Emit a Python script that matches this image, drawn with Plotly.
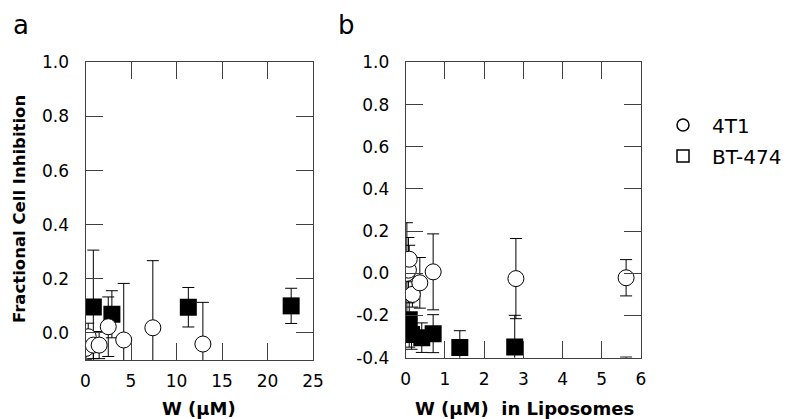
import plotly.graph_objects as go

# ---------------- data ----------------
# Panel a : free W
a_4t1_x = [0.05, 0.3, 0.86, 1.5, 2.5, 4.2, 7.4, 12.9]
a_4t1_y = [-0.057, -0.014, -0.045, -0.045, 0.023, -0.026, 0.019, -0.041]
a_4t1_err = [0.04, 0.05, 0.05, 0.05, 0.11, 0.209, 0.248, 0.154]

a_bt_x = [0.86, 2.9, 11.3, 22.6]
a_bt_y = [0.096, 0.069, 0.095, 0.10]
a_bt_err = [0.21, 0.087, 0.073, 0.065]

# Panel b : W in liposomes
b_4t1_x = [0.03, 0.07, 0.09, 0.17, 0.36, 0.70, 2.81, 5.62]
b_4t1_y = [0.0, 0.015, 0.067, -0.10, -0.045, 0.007, -0.025, -0.021]
b_4t1_err = [0.24, 0.155, 0.066, 0.06, 0.12, 0.18, 0.19, 0.086]

b_bt_x = [0.09, 0.15, 0.41, 0.70, 1.38, 2.78, 5.62]
b_bt_y = [-0.22, -0.29, -0.305, -0.286, -0.352, -0.349, -0.45]
b_bt_err = [0.13, 0.07, 0.07, 0.09, 0.08, 0.15, 0.053]

a_xticks = [0, 5, 10, 15, 20, 25]
a_yticks = [0.0, 0.2, 0.4, 0.6, 0.8, 1.0]
a_yticklabels = ["0.0", "0.2", "0.4", "0.6", "0.8", "1.0"]
b_xticks = [0, 1, 2, 3, 4, 5, 6]
b_yticks = [-0.4, -0.2, 0.0, 0.2, 0.4, 0.6, 0.8, 1.0]
b_yticklabels = ["-0.4", "-0.2", "0.0", "0.2", "0.4", "0.6", "0.8", "1.0"]

series_names = ["4T1", "BT-474"]

# ---------------- styling ----------------
W, H = 790, 419
FONT = "DejaVu Sans"
LINE = "#404040"

def px_x(p):
    return p / W

def px_y(p):
    return (H - p) / H

fig = go.Figure()

circ = dict(symbol="circle", size=16, color="white", line=dict(color="black", width=1))
sq = dict(symbol="square", size=17, color="black", line=dict(color="black", width=0))
err_style = dict(type="data", color="black", thickness=1, width=6)

fig.add_trace(go.Scatter(x=a_bt_x, y=a_bt_y, mode="markers", marker=sq,
                         error_y=dict(array=a_bt_err, **err_style),
                         xaxis="x", yaxis="y", showlegend=False))
fig.add_trace(go.Scatter(x=a_4t1_x, y=a_4t1_y, mode="markers", marker=circ,
                         error_y=dict(array=a_4t1_err, **err_style),
                         xaxis="x", yaxis="y", showlegend=False))
fig.add_trace(go.Scatter(x=b_bt_x, y=b_bt_y, mode="markers", marker=sq,
                         error_y=dict(array=b_bt_err, **err_style),
                         xaxis="x2", yaxis="y2", showlegend=False))
fig.add_trace(go.Scatter(x=b_4t1_x, y=b_4t1_y, mode="markers", marker=circ,
                         error_y=dict(array=b_4t1_err, **err_style),
                         xaxis="x2", yaxis="y2", showlegend=False))

# legend entries (open symbols, as in the reference)
fig.add_trace(go.Scatter(x=[None], y=[None], mode="markers", name=series_names[0],
                         marker=dict(symbol="circle-open", size=12, color="black", line=dict(width=1.5)),
                         legend="legend", xaxis="x2", yaxis="y2"))
fig.add_trace(go.Scatter(x=[None], y=[None], mode="markers", name=series_names[1],
                         marker=dict(symbol="square-open", size=12, color="black", line=dict(width=1.5)),
                         legend="legend2", xaxis="x2", yaxis="y2"))

axis_common = dict(showline=True, linecolor=LINE, linewidth=1, mirror="ticks",
                   ticks="inside", ticklen=17, tickwidth=1, tickcolor=LINE,
                   showgrid=False, zeroline=False, automargin=False,
                   tickfont=dict(family=FONT, size=17, color="black"))

leg_common = dict(xanchor="left", yanchor="middle", itemwidth=48,
                  font=dict(family=FONT, size=20, color="black"),
                  bgcolor="rgba(0,0,0,0)", borderwidth=0)

fig.update_layout(
    template="none",
    width=W, height=H,
    margin=dict(l=0, r=0, t=0, b=0, autoexpand=False),
    paper_bgcolor="white", plot_bgcolor="white",
    xaxis=dict(domain=[px_x(85.5), px_x(313)], range=[0, 25],
               tickvals=a_xticks, ticklabelstandoff=6, anchor="y", **axis_common),
    yaxis=dict(domain=[px_y(360), px_y(62.3)], range=[-0.1, 1.0],
               tickvals=a_yticks, ticktext=a_yticklabels, ticklabelstandoff=12,
               anchor="x", **axis_common),
    xaxis2=dict(domain=[px_x(405.7), px_x(641)], range=[0, 6],
                tickvals=b_xticks, ticklabelstandoff=6, anchor="y2", **axis_common),
    yaxis2=dict(domain=[px_y(357.7), px_y(62.4)], range=[-0.4, 1.0],
                tickvals=b_yticks, ticktext=b_yticklabels, ticklabelstandoff=12,
                anchor="x2", **axis_common),
    legend=dict(x=px_x(654), y=px_y(125), **leg_common),
    legend2=dict(x=px_x(654), y=px_y(156), **leg_common),
    annotations=[
        dict(text="a", x=px_x(20.5), y=px_y(25), xref="paper", yref="paper",
             xanchor="center", yanchor="middle",
             showarrow=False, font=dict(family=FONT, size=26, color="black")),
        dict(text="b", x=px_x(346.5), y=px_y(25), xref="paper", yref="paper",
             xanchor="center", yanchor="middle",
             showarrow=False, font=dict(family=FONT, size=26, color="black")),
        dict(text="<b>Fractional Cell Inhibition</b>", x=px_x(19), y=px_y(209),
             xref="paper", yref="paper", textangle=-90, showarrow=False,
             xanchor="center", yanchor="middle",
             font=dict(family=FONT, size=16.5, color="black")),
        dict(text="<b>W (μM)</b>", x=px_x(199), y=px_y(408), xref="paper", yref="paper",
             xanchor="center", yanchor="middle",
             showarrow=False, font=dict(family=FONT, size=18, color="black")),
        dict(text="<b>W (μM)  in Liposomes</b>", x=px_x(524), y=px_y(408),
             xref="paper", yref="paper", showarrow=False,
             xanchor="center", yanchor="middle",
             font=dict(family=FONT, size=18, color="black")),
    ],
)

fig.write_html("out.html",
               config={"displayModeBar": False},
               post_script="document.body.style.margin='0';document.body.style.overflow='hidden';")
